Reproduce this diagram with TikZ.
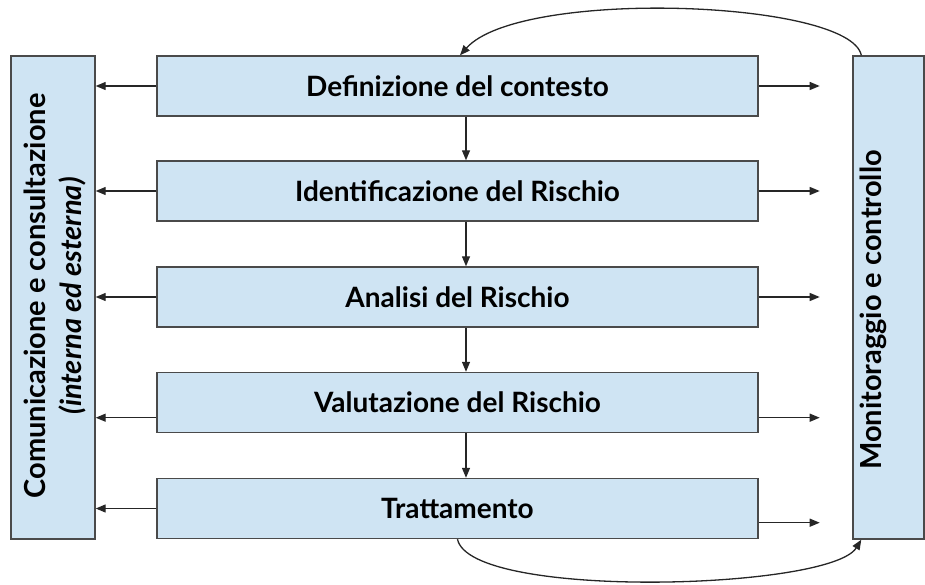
\documentclass[tikz,border=0pt]{standalone}
\usepackage{fontspec}
\setmainfont{Lato}
\usetikzlibrary{arrows.meta,calc}
\definecolor{boxfill}{HTML}{CFE4F3}
\definecolor{boxline}{HTML}{4A4A4A}
\begin{document}
\begin{tikzpicture}[x=1pt,y=-1pt,
  box/.style={draw=boxline,fill=boxfill,line width=1.4pt,inner sep=0pt,
    minimum width=601pt,minimum height=60pt,font=\fontsize{28}{32}\selectfont\bfseries},
  side/.style={draw=boxline,fill=boxfill,line width=1.4pt,inner sep=0pt,minimum height=483pt},
  lbl/.style={font=\fontsize{29}{32}\selectfont\bfseries,rotate=90,inner sep=0pt},
  arr/.style={line width=1.3pt,draw=black!85,-{Triangle[length=10pt,width=8pt]}}]
\useasboundingbox (0,0) rectangle (925,585);
\node[side,minimum width=84pt] (left) at (53,297.5) {};
\node[side,minimum width=71pt] (right) at (888.5,297.5) {};
\node[lbl] (ltxt1) at (35,296) {Comunicazione e consultazione};
\node[lbl] (ltxt2) at (72,296) {\itshape (interna ed esterna)};
\node[lbl] (rtxt) at (873,310) {Monitoraggio e controllo};
\node[box] (b1) at (457.5,86) {Definizione del contesto};
\node[box] (b2) at (457.5,191) {Identificazione del Rischio};
\node[box] (b3) at (457.5,297) {Analisi del Rischio};
\node[box] (b4) at (457.5,402.5) {Valutazione del Rischio};
\node[box] (b5) at (457.5,508.5) {Trattamento};
% left arrows
\foreach \b in {b1,b2,b3,b5} \draw[arr] (\b.west) -- (left.east |- \b.west);
\coordinate (b4l) at ($(b4.south west)+(0,-15.5)$);
\draw[arr] (b4l) -- (left.east |- b4l);
% right arrows
\foreach \b in {b1,b2,b3} {\coordinate (\b r) at ($(\b.east)+(61,0)$); \draw[arr] (\b.east) -- (\b r);}
\coordinate (b4r0) at ($(b4.south east)+(0,-15.5)$);
\coordinate (b4r) at ($(b4r0)+(61,0)$);
\draw[arr] (b4r0) -- (b4r);
\coordinate (b5r0) at ($(b5.south east)+(0,-16.5)$);
\coordinate (b5r) at ($(b5r0)+(61,0)$);
\draw[arr] (b5r0) -- (b5r);
% vertical arrows
\draw[arr] ($(b1.south)+(8.5,0)$) -- ($(b2.north)+(8.5,0)$);
\draw[arr] ($(b2.south)+(8.5,0)$) -- ($(b3.north)+(8.5,0)$);
\draw[arr] ($(b3.south)+(8.5,0)$) -- ($(b4.north)+(8.5,0)$);
\draw[arr] ($(b4.south)+(8.5,0)$) -- ($(b5.north)+(8.5,0)$);
% loop curves
\draw[arr] ($(right.north west)+(9,0)$) .. controls (850,0) and (520,-12) .. ($(b1.north)+(2.5,0)$);
\draw[arr] (b5.south) .. controls (470,600) and (830,590) .. ($(right.south west)+(9,0)$);
\end{tikzpicture}
\end{document}
